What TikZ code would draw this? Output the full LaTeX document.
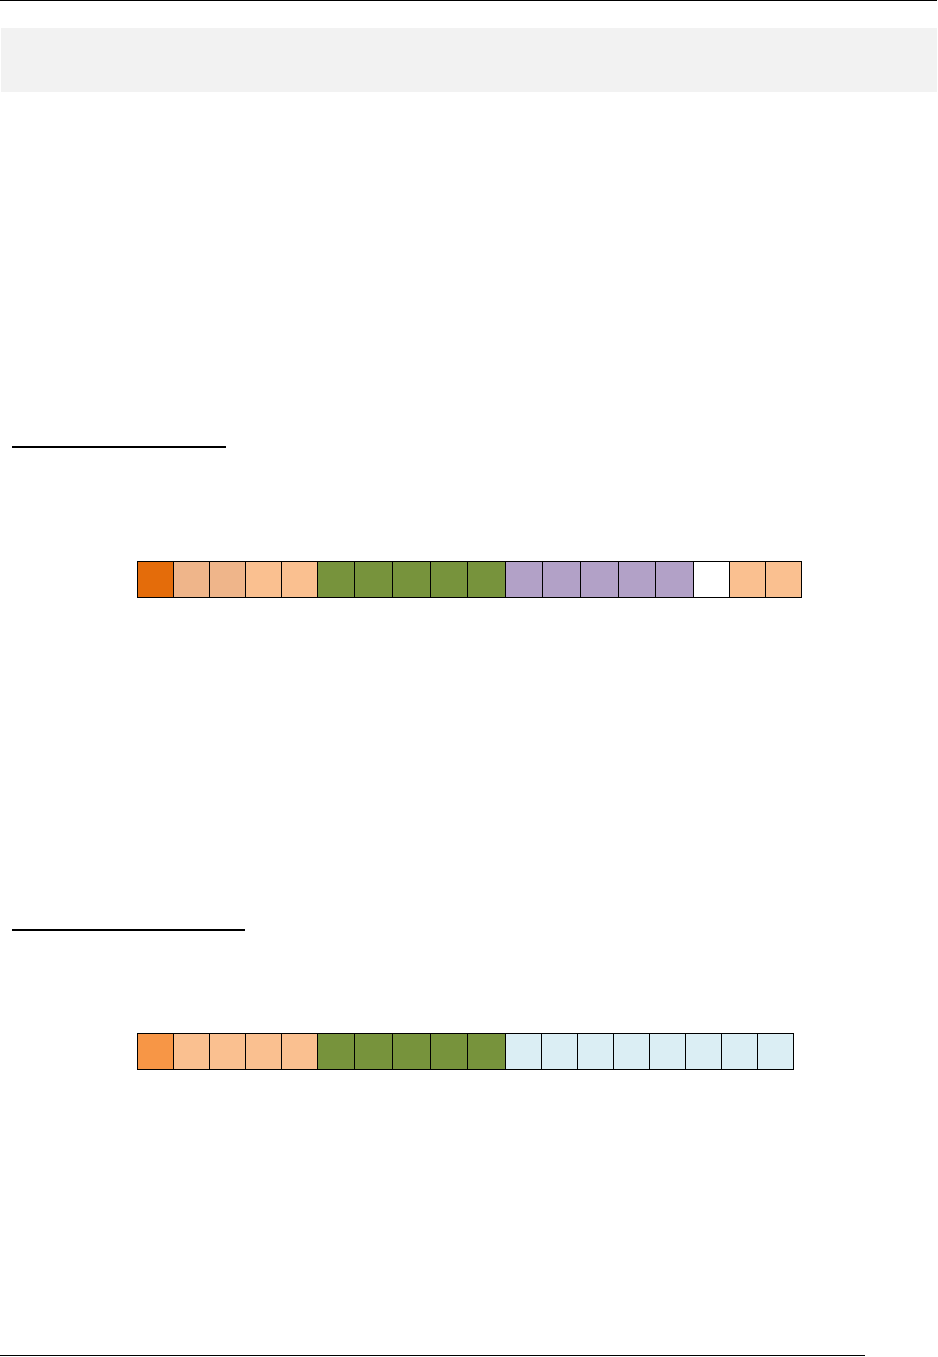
\documentclass[tikz,border=0pt]{standalone}
\usetikzlibrary{positioning}
\definecolor{headgrey}{HTML}{F2F2F2}
\definecolor{darkorange}{HTML}{E46C0A}
\definecolor{orangemid}{HTML}{F79646}
\definecolor{tan}{HTML}{EFB58A}
\definecolor{peach}{HTML}{FAC090}
\definecolor{olive}{HTML}{77933C}
\definecolor{lilac}{HTML}{B2A1C7}
\definecolor{paleblue}{HTML}{DBEEF4}

\begin{document}
\begin{tikzpicture}[x=1pt,y=-1pt,cell/.style = {draw, line width=1pt, inner sep=0pt, outer sep=0pt, minimum height=36pt},sq/.style = {cell, minimum width=36pt},wd/.style = {cell, minimum width=37.6pt},]
\useasboundingbox (0,0) rectangle (937,1357);
\draw[line width=1.3pt] (0,0.6)--(937,0.6);
\fill[headgrey] (1,28) rectangle (937,92);
\draw[line width=2pt] (12,446.5)--(226,446.5);
\draw[line width=2pt] (12,929.7)--(245,929.7);
\draw[line width=1pt] (0,1355.5)--(865,1355.5);
% first row
\node (a1) at (137.3,561.3)[sq,fill=darkorange,anchor=north west] {};
\node (a2) [sq,fill=tan,right=0pt of a1] {};
\node (a3) [sq,fill=tan,right=0pt of a2] {};
\node (a4) [sq,fill=peach,right=0pt of a3] {};
\node (a5) [sq,fill=peach,right=0pt of a4] {};
\node (a6) [wd,fill=olive,right=0pt of a5] {};
\node (a7) [wd,fill=olive,right=0pt of a6] {};
\node (a8) [wd,fill=olive,right=0pt of a7] {};
\node (a9) [wd,fill=olive,right=0pt of a8] {};
\node (a10) [wd,fill=olive,right=0pt of a9] {};
\node (a11) [wd,fill=lilac,right=0pt of a10] {};
\node (a12) [wd,fill=lilac,right=0pt of a11] {};
\node (a13) [wd,fill=lilac,right=0pt of a12] {};
\node (a14) [wd,fill=lilac,right=0pt of a13] {};
\node (a15) [wd,fill=lilac,right=0pt of a14] {};
\node (a16) [sq,fill=white,right=0pt of a15] {};
\node (a17) [sq,fill=peach,right=0pt of a16] {};
\node (a18) [sq,fill=peach,right=0pt of a17] {};
% second row
\node (b1) at (137.3,1033.3)[sq,fill=orangemid,anchor=north west] {};
\node (b2) [sq,fill=peach,right=0pt of b1] {};
\node (b3) [sq,fill=peach,right=0pt of b2] {};
\node (b4) [sq,fill=peach,right=0pt of b3] {};
\node (b5) [sq,fill=peach,right=0pt of b4] {};
\node (b6) [wd,fill=olive,right=0pt of b5] {};
\node (b7) [wd,fill=olive,right=0pt of b6] {};
\node (b8) [wd,fill=olive,right=0pt of b7] {};
\node (b9) [wd,fill=olive,right=0pt of b8] {};
\node (b10) [wd,fill=olive,right=0pt of b9] {};
\node (b11) [sq,fill=paleblue,right=0pt of b10] {};
\node (b12) [sq,fill=paleblue,right=0pt of b11] {};
\node (b13) [sq,fill=paleblue,right=0pt of b12] {};
\node (b14) [sq,fill=paleblue,right=0pt of b13] {};
\node (b15) [sq,fill=paleblue,right=0pt of b14] {};
\node (b16) [sq,fill=paleblue,right=0pt of b15] {};
\node (b17) [sq,fill=paleblue,right=0pt of b16] {};
\node (b18) [sq,fill=paleblue,right=0pt of b17] {};
\end{tikzpicture}
\end{document}
